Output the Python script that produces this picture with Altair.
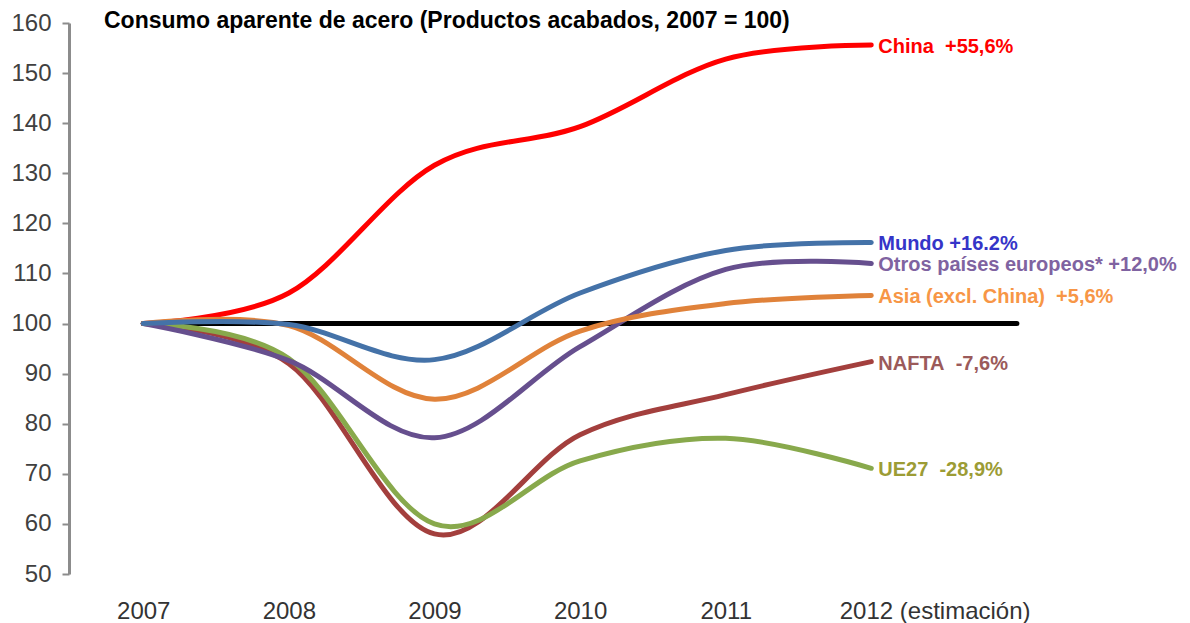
import altair as alt
import pandas as pd

years = [2007, 2008, 2009, 2010, 2011, 2012]
series = ["China", "NAFTA", "UE27", "Otros", "Asia", "Mundo"]
values = {
    "China": [100, 106.1, 131.6, 139.3, 152.8, 155.6],
    "NAFTA": [100, 92.0, 58.0, 77.8, 85.8, 92.4],
    "UE27": [100, 93.0, 60.0, 72.6, 77.1, 71.1],
    "Otros": [100, 92.6, 77.2, 95.4, 110.8, 112.0],
    "Asia": [100, 99.6, 84.9, 98.5, 104.0, 105.6],
    "Mundo": [100, 99.8, 92.8, 106.1, 114.6, 116.2],
}
labels = {
    "China": "China\u00a0 +55,6%",
    "NAFTA": "NAFTA\u00a0 -7,6%",
    "UE27": "UE27\u00a0 -28,9%",
    "Otros": "Otros países europeos* +12,0%",
    "Asia": "Asia (excl. China)\u00a0 +5,6%",
    "Mundo": "Mundo +16.2%",
}
line_colors = {
    "China": "#FF0000", "NAFTA": "#A33F3D", "UE27": "#88A94C",
    "Otros": "#664F8E", "Asia": "#E0823A", "Mundo": "#4472A8",
}
label_colors = {
    "China": "#FF0000", "NAFTA": "#9B5A5A", "UE27": "#9C9C35",
    "Otros": "#7F63A1", "Asia": "#F79646", "Mundo": "#3535C8",
}
ref_start, ref_end, ref_value = 2007, 2013, 100

FONT = "Liberation Sans"

rows = []
for s in series:
    for y, v in zip(years, values[s]):
        rows.append({"year": y, "value": v, "series": s, "lc": line_colors[s]})
df = pd.DataFrame(rows)

lab = pd.DataFrame([
    {"year": years[-1], "value": values[s][-1], "label": labels[s], "tc": label_colors[s]}
    for s in series
])
ref = pd.DataFrame([{"x": ref_start, "x2": ref_end, "y": ref_value}])

xscale = alt.Scale(domain=[2006.49, 2013.2], nice=False, zero=False)
yscale = alt.Scale(domain=[50, 160], nice=False, zero=False)

xaxis = alt.Axis(
    values=years, title=None, domain=False, ticks=False, grid=False,
    labelExpr="datum.value == 2012 ? '2012 (estimación)' : datum.value",
    labelAlign={"expr": "datum.value == 2012 ? 'left' : 'center'"},
    labelOffset={"expr": "datum.value == 2012 ? -32 : 0"},
    labelFontSize=24, labelFont=FONT, labelColor="#333333", labelPadding=25,
    labelFlush=False, labelOverlap=False, labelLimit=400,
)
yaxis = alt.Axis(
    values=list(range(50, 161, 10)), title=None, grid=False,
    domainColor="#8C8C8C", domainWidth=3, tickColor="#8C8C8C", tickWidth=2, tickSize=7,
    labelFontSize=24, labelFont=FONT, labelColor="#404040", labelPadding=11,
)

rule = alt.Chart(ref).mark_rule(color="black", strokeWidth=5, strokeCap="round").encode(
    x=alt.X("x:Q", scale=xscale, axis=xaxis),
    x2="x2:Q",
    y=alt.Y("y:Q", scale=yscale, axis=yaxis),
)

lines = alt.Chart(df).mark_line(interpolate="cardinal", strokeWidth=5, strokeCap="round").encode(
    x=alt.X("year:Q", scale=xscale),
    y=alt.Y("value:Q", scale=yscale),
    color=alt.Color("lc:N", scale=None),
    detail="series:N",
)

text = alt.Chart(lab).mark_text(
    align="left", baseline="middle", dx=7, dy=2, fontSize=20, fontWeight="bold", font=FONT
).encode(
    x=alt.X("year:Q", scale=xscale),
    y=alt.Y("value:Q", scale=yscale),
    text="label:N",
    color=alt.Color("tc:N", scale=None),
)

chart = alt.layer(rule, lines, text).properties(
    width=977, height=551,
    title=alt.TitleParams(
        "Consumo aparente de acero (Productos acabados, 2007 = 100)",
        anchor="start", frame="group", dx=35, offset=-22,
        fontSize=23, fontWeight="bold", font=FONT, color="black",
    ),
    padding={"top": 2, "left": 2, "right": 5, "bottom": 0},
).configure(background="white", view=alt.ViewConfig(stroke=None))

chart.save("out.html", embed_options={"renderer": "svg", "actions": False})
